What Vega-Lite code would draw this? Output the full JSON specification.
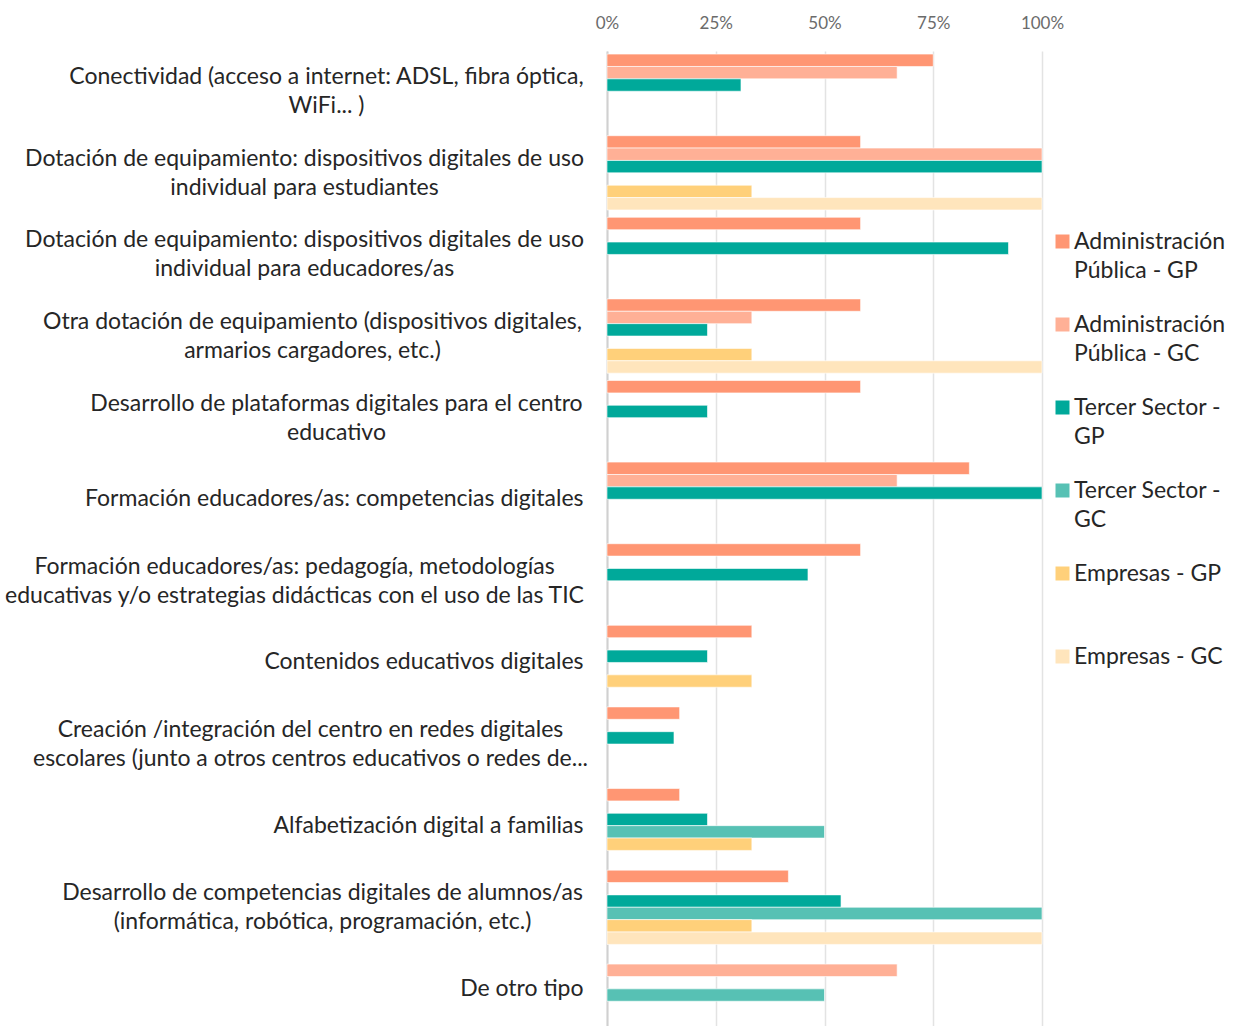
{
  "$schema": "https://vega.github.io/schema/vega-lite/v6.json",
  "width": 435,
  "height": 975,
  "padding": {"left": 3, "top": 14, "right": 0, "bottom": 0},
  "autosize": {"type": "pad"},
  "background": "white",
  "config": {
    "font": "Lato",
    "view": {"stroke": null},
    "style": {"guide-label": {"lineHeight": 29}}
  },
  "data": {
    "values": [
      {"cat": "Conectividad (acceso a internet: ADSL, fibra óptica, WiFi... )", "series": "Administración Pública - GP", "value": 0.75},
      {"cat": "Conectividad (acceso a internet: ADSL, fibra óptica, WiFi... )", "series": "Administración Pública - GC", "value": 0.667},
      {"cat": "Conectividad (acceso a internet: ADSL, fibra óptica, WiFi... )", "series": "Tercer Sector - GP", "value": 0.308},
      {"cat": "Dotación de equipamiento: dispositivos digitales de uso individual para estudiantes", "series": "Administración Pública - GP", "value": 0.583},
      {"cat": "Dotación de equipamiento: dispositivos digitales de uso individual para estudiantes", "series": "Administración Pública - GC", "value": 1},
      {"cat": "Dotación de equipamiento: dispositivos digitales de uso individual para estudiantes", "series": "Tercer Sector - GP", "value": 1},
      {"cat": "Dotación de equipamiento: dispositivos digitales de uso individual para estudiantes", "series": "Empresas - GP", "value": 0.333},
      {"cat": "Dotación de equipamiento: dispositivos digitales de uso individual para estudiantes", "series": "Empresas - GC", "value": 1},
      {"cat": "Dotación de equipamiento: dispositivos digitales de uso individual para educadores/as", "series": "Administración Pública - GP", "value": 0.583},
      {"cat": "Dotación de equipamiento: dispositivos digitales de uso individual para educadores/as", "series": "Tercer Sector - GP", "value": 0.923},
      {"cat": "Otra dotación de equipamiento (dispositivos digitales, armarios cargadores, etc.)", "series": "Administración Pública - GP", "value": 0.583},
      {"cat": "Otra dotación de equipamiento (dispositivos digitales, armarios cargadores, etc.)", "series": "Administración Pública - GC", "value": 0.333},
      {"cat": "Otra dotación de equipamiento (dispositivos digitales, armarios cargadores, etc.)", "series": "Tercer Sector - GP", "value": 0.231},
      {"cat": "Otra dotación de equipamiento (dispositivos digitales, armarios cargadores, etc.)", "series": "Empresas - GP", "value": 0.333},
      {"cat": "Otra dotación de equipamiento (dispositivos digitales, armarios cargadores, etc.)", "series": "Empresas - GC", "value": 1},
      {"cat": "Desarrollo de plataformas digitales para el centro educativo", "series": "Administración Pública - GP", "value": 0.583},
      {"cat": "Desarrollo de plataformas digitales para el centro educativo", "series": "Tercer Sector - GP", "value": 0.231},
      {"cat": "Formación educadores/as: competencias digitales", "series": "Administración Pública - GP", "value": 0.833},
      {"cat": "Formación educadores/as: competencias digitales", "series": "Administración Pública - GC", "value": 0.667},
      {"cat": "Formación educadores/as: competencias digitales", "series": "Tercer Sector - GP", "value": 1},
      {"cat": "Formación educadores/as: pedagogía, metodologías educativas y/o estrategias didácticas con el uso de las TIC", "series": "Administración Pública - GP", "value": 0.583},
      {"cat": "Formación educadores/as: pedagogía, metodologías educativas y/o estrategias didácticas con el uso de las TIC", "series": "Tercer Sector - GP", "value": 0.462},
      {"cat": "Contenidos educativos digitales", "series": "Administración Pública - GP", "value": 0.333},
      {"cat": "Contenidos educativos digitales", "series": "Tercer Sector - GP", "value": 0.231},
      {"cat": "Contenidos educativos digitales", "series": "Empresas - GP", "value": 0.333},
      {"cat": "Creación /integración del centro en redes digitales escolares (junto a otros centros educativos o redes de...", "series": "Administración Pública - GP", "value": 0.167},
      {"cat": "Creación /integración del centro en redes digitales escolares (junto a otros centros educativos o redes de...", "series": "Tercer Sector - GP", "value": 0.154},
      {"cat": "Alfabetización digital a familias", "series": "Administración Pública - GP", "value": 0.167},
      {"cat": "Alfabetización digital a familias", "series": "Tercer Sector - GP", "value": 0.231},
      {"cat": "Alfabetización digital a familias", "series": "Tercer Sector - GC", "value": 0.5},
      {"cat": "Alfabetización digital a familias", "series": "Empresas - GP", "value": 0.333},
      {"cat": "Desarrollo de competencias digitales de alumnos/as (informática, robótica, programación, etc.)", "series": "Administración Pública - GP", "value": 0.417},
      {"cat": "Desarrollo de competencias digitales de alumnos/as (informática, robótica, programación, etc.)", "series": "Tercer Sector - GP", "value": 0.538},
      {"cat": "Desarrollo de competencias digitales de alumnos/as (informática, robótica, programación, etc.)", "series": "Tercer Sector - GC", "value": 1},
      {"cat": "Desarrollo de competencias digitales de alumnos/as (informática, robótica, programación, etc.)", "series": "Empresas - GP", "value": 0.333},
      {"cat": "Desarrollo de competencias digitales de alumnos/as (informática, robótica, programación, etc.)", "series": "Empresas - GC", "value": 1},
      {"cat": "De otro tipo", "series": "Administración Pública - GC", "value": 0.667},
      {"cat": "De otro tipo", "series": "Tercer Sector - GC", "value": 0.5}
    ]
  },
  "mark": {"type": "bar", "stroke": "white", "strokeWidth": 0.6},
  "encoding": {
    "y": {
      "field": "cat",
      "type": "nominal",
      "sort": null,
      "scale": {"paddingInner": 0.09, "paddingOuter": 0.019, "align": 1},
      "axis": {
        "title": null,
        "ticks": false,
        "grid": false,
        "domain": true,
        "domainColor": "#d0d0d0",
        "domainWidth": 2,
        "labelFontSize": 23,
        "labelColor": "#262626",
        "labelLimit": 700,
        "labelBaseline": "middle",
        "labelAlign": {
          "condition": {"test": "slice(datum.value,0,12) === 'Conectividad' || slice(datum.value,0,8) === 'Dotación' || slice(datum.value,0,8) === 'Otra dot' || slice(datum.value,0,16) === 'Desarrollo de pl' || slice(datum.value,0,26) === 'Formación educadores/as: p' || slice(datum.value,0,8) === 'Creación' || slice(datum.value,0,16) === 'Desarrollo de co'", "value": "center"},
          "value": "right"
        },
        "labelOffset": {
          "condition": {"test": "slice(datum.value,0,12) === 'Conectividad' || slice(datum.value,0,8) === 'Dotación' || slice(datum.value,0,8) === 'Otra dot' || slice(datum.value,0,16) === 'Desarrollo de pl' || slice(datum.value,0,26) === 'Formación educadores/as: p' || slice(datum.value,0,8) === 'Creación' || slice(datum.value,0,16) === 'Desarrollo de co'", "value": -14},
          "value": 0
        },
        "labelPadding": {
          "condition": [
            {"test": "slice(datum.value,0,12) === 'Conectividad'", "value": 281},
            {"test": "slice(datum.value,0,8) === 'Dotación'", "value": 303},
            {"test": "slice(datum.value,0,8) === 'Otra dot'", "value": 295},
            {"test": "slice(datum.value,0,16) === 'Desarrollo de pl'", "value": 271},
            {"test": "slice(datum.value,0,26) === 'Formación educadores/as: p'", "value": 313},
            {"test": "slice(datum.value,0,8) === 'Creación'", "value": 297},
            {"test": "slice(datum.value,0,16) === 'Desarrollo de co'", "value": 285}
          ],
          "value": 24
        },
        "labelExpr": "split(replace(replace(replace(replace(replace(replace(replace(datum.label, 'óptica, ', 'óptica,|'), 'uso individual', 'uso|individual'), 'digitales, armarios', 'digitales,|armarios'), 'centro educativo', 'centro|educativo'), 'metodologías educativas', 'metodologías|educativas'), 'digitales escolares', 'digitales|escolares'), 'alumnos/as (', 'alumnos/as|('), '|')"
      }
    },
    "yOffset": {
      "field": "series",
      "type": "nominal",
      "scale": {
        "domain": ["Administración Pública - GP", "Administración Pública - GC", "Tercer Sector - GP", "Tercer Sector - GC", "Empresas - GP", "Empresas - GC"],
        "paddingInner": 0,
        "paddingOuter": 0
      }
    },
    "x": {
      "field": "value",
      "type": "quantitative",
      "scale": {"domain": [0, 1]},
      "axis": {
        "orient": "top",
        "title": null,
        "format": ".0%",
        "values": [0, 0.25, 0.5, 0.75, 1],
        "ticks": false,
        "domain": false,
        "grid": true,
        "gridColor": "#e3e3e3",
        "gridWidth": 1.5,
        "labelFontSize": 17,
        "labelColor": "#6b6b6b",
        "labelPadding": 19,
        "labelFlush": false
      }
    },
    "color": {
      "field": "series",
      "type": "nominal",
      "scale": {
        "domain": ["Administración Pública - GP", "Administración Pública - GC", "Tercer Sector - GP", "Tercer Sector - GC", "Empresas - GP", "Empresas - GC"],
        "range": ["#FF9673", "#FFB096", "#00A99A", "#57C1B4", "#FFD07A", "#FFE5BC"]
      },
      "legend": {
        "title": null,
        "orient": "none",
        "legendX": 444,
        "legendY": 179,
        "padding": 0,
        "symbolType": "square",
        "symbolSize": 196,
        "symbolStrokeWidth": 0,
        "labelFontSize": 23,
        "labelColor": "#262626",
        "labelLimit": 300,
        "labelOffset": 0,
        "labelBaseline": "middle",
        "rowPadding": 30,
        "labelExpr": "slice(datum.label, 0, 6) === 'Admini' ? ['Administración', slice(datum.label, 15)] : slice(datum.label, 0, 6) === 'Tercer' ? ['Tercer Sector -', slice(datum.label, 16)] : [datum.label, '']"
      }
    }
  }
}
